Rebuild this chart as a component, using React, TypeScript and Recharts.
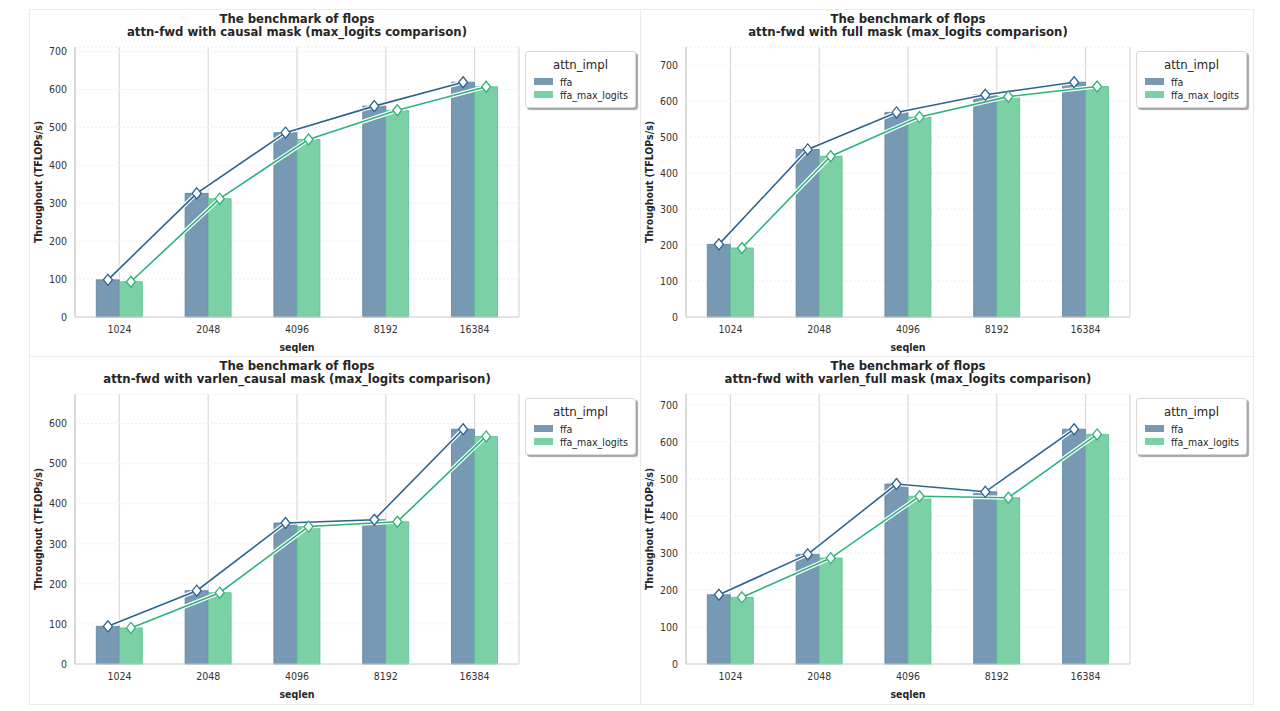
import React from "react";
import { ComposedChart, Bar, Line, XAxis, YAxis, CartesianGrid } from "recharts";

const seqlens = ["1024", "2048", "4096", "8192", "16384"];

// throughput (TFLOPs/s)
const causalFfa = [98, 326, 486, 556, 619];
const causalMax = [93, 312, 468, 545, 607];
const fullFfa = [202, 466, 569, 618, 653];
const fullMax = [192, 447, 556, 613, 641];
const varCausalFfa = [94, 183, 352, 360, 586];
const varCausalMax = [90, 178, 343, 355, 568];
const varFullFfa = [187, 296, 486, 465, 634];
const varFullMax = [180, 286, 453, 449, 620];

const ticks700 = [0, 100, 200, 300, 400, 500, 600, 700];
const ticks600 = [0, 100, 200, 300, 400, 500, 600];

const FONT = "'DejaVu Sans Condensed', 'DejaVu Sans', sans-serif";
const BAR_FFA = "#7799b4";
const BAR_MAX = "#7cd0a6";
const LINE_FFA = "#2c6491";
const LINE_MAX = "#2db47b";
const SHIFT = 11.5;

const diamond = (color: string) => (props: any) => {
  const { cx, cy, index } = props;
  if (cx == null || cy == null) return <g key={index} />;
  return (
    <path
      key={index}
      d={`M${cx},${cy - 5.5}L${cx + 4.5},${cy}L${cx},${cy + 5.5}L${cx - 4.5},${cy}Z`}
      fill="#fff"
      stroke={color}
      strokeWidth={1.3}
    />
  );
};

interface PanelProps {
  left: number;
  top: number;
  mask: string;
  ffa: number[];
  max: number[];
  ticks: number[];
}

function Panel({ left, top, mask, ffa, max, ticks }: PanelProps) {
  const data = seqlens.map((s, i) => ({ seqlen: s, ffa: ffa[i], ffa_max_logits: max[i] }));
  const yMax = Math.max(...ffa, ...max) * 1.15;

  return (
    <div
      style={{
        position: "absolute",
        left: left - 1,
        top: top - 1,
        width: 612,
        height: 347,
        border: "1px solid #ebebeb",
        background: "#fff",
        fontFamily: FONT,
        fontStretch: "condensed",
      }}
    >
      <div
        style={{
          position: "absolute",
          left: 45,
          width: 444,
          top: 2,
          textAlign: "center",
          fontWeight: "bold",
          fontSize: 13,
          lineHeight: "13px",
          color: "#262626",
        }}
      >
        The benchmark of flops
        <br />
        attn-fwd with {mask} mask (max_logits comparison)
      </div>

      <ComposedChart
        width={610}
        height={345}
        data={data}
        margin={{ top: 37, right: 121, bottom: 4, left: 0 }}
        barCategoryGap="24%"
        barGap={0}
        style={{ fontFamily: FONT, fontStretch: "condensed" }}
      >
        <CartesianGrid horizontal={false} stroke="#dcdcdc" strokeWidth={1.3} />
        <CartesianGrid vertical={false} stroke="#eeeeee" strokeDasharray="2 2" />
        <XAxis
          dataKey="seqlen"
          tickLine={false}
          tickSize={0}
          tickMargin={9}
          axisLine={{ stroke: "#cccccc" }}
          tick={{ fill: "#333", fontSize: 10.5 }}
          height={34}
          label={{
            value: "seqlen",
            position: "insideBottom",
            offset: 0,
            style: { fontWeight: "bold", fontSize: 10.5, fill: "#262626" },
          }}
        />
        <XAxis xAxisId="l1" dataKey="seqlen" hide padding={{ left: -SHIFT, right: SHIFT }} />
        <XAxis xAxisId="l2" dataKey="seqlen" hide padding={{ left: SHIFT, right: -SHIFT }} />
        <YAxis
          width={45}
          domain={[0, yMax]}
          ticks={ticks}
          tickLine={false}
          tickSize={0}
          tickMargin={8}
          axisLine={{ stroke: "#cccccc" }}
          tick={{ fill: "#333", fontSize: 10.5 }}
          label={{
            value: "Throughout (TFLOPs/s)",
            angle: -90,
            position: "insideLeft",
            offset: 8,
            style: { textAnchor: "middle", fontWeight: "bold", fontSize: 10.5, fill: "#262626" },
          }}
        />
        <Bar dataKey="ffa" fill={BAR_FFA} stroke="#5a82a3" strokeWidth={0.8} isAnimationActive={false} />
        <Bar dataKey="ffa_max_logits" fill={BAR_MAX} stroke="#55c08b" strokeWidth={0.8} isAnimationActive={false} />
        <Line xAxisId="l1" dataKey="ffa" stroke="#fff" strokeWidth={4} dot={false} activeDot={false} legendType="none" isAnimationActive={false} />
        <Line xAxisId="l1" dataKey="ffa" stroke={LINE_FFA} strokeWidth={1.6} dot={diamond(LINE_FFA)} activeDot={false} legendType="none" isAnimationActive={false} />
        <Line xAxisId="l2" dataKey="ffa_max_logits" stroke="#fff" strokeWidth={4} dot={false} activeDot={false} legendType="none" isAnimationActive={false} />
        <Line xAxisId="l2" dataKey="ffa_max_logits" stroke={LINE_MAX} strokeWidth={1.6} dot={diamond(LINE_MAX)} activeDot={false} legendType="none" isAnimationActive={false} />
      </ComposedChart>

      <div
        style={{
          position: "absolute",
          left: 495,
          top: 41,
          width: 111,
          height: 57,
          boxSizing: "border-box",
          border: "1px solid #d8d8d8",
          borderRadius: 3,
          background: "#fff",
          boxShadow: "2px 2px 1px rgba(0,0,0,0.35)",
          color: "#262626",
        }}
      >
        <div style={{ textAlign: "center", fontSize: 13, marginTop: 6, marginBottom: 3, lineHeight: "14px" }}>attn_impl</div>
        {[
          { name: "ffa", color: BAR_FFA },
          { name: "ffa_max_logits", color: BAR_MAX },
        ].map((it) => (
          <div key={it.name} style={{ display: "flex", alignItems: "center", height: 13, marginLeft: 8, fontSize: 10.5 }}>
            <span style={{ width: 19, height: 7, background: it.color, marginRight: 7, display: "inline-block" }} />
            {it.name}
          </div>
        ))}
      </div>
    </div>
  );
}

export default function App() {
  return (
    <div style={{ position: "absolute", left: 0, top: 0, width: 1280, height: 711, background: "#fff" }}>
      <Panel left={30} top={10} mask="causal" ffa={causalFfa} max={causalMax} ticks={ticks700} />
      <Panel left={641} top={10} mask="full" ffa={fullFfa} max={fullMax} ticks={ticks700} />
      <Panel left={30} top={357} mask="varlen_causal" ffa={varCausalFfa} max={varCausalMax} ticks={ticks600} />
      <Panel left={641} top={357} mask="varlen_full" ffa={varFullFfa} max={varFullMax} ticks={ticks700} />
    </div>
  );
}
